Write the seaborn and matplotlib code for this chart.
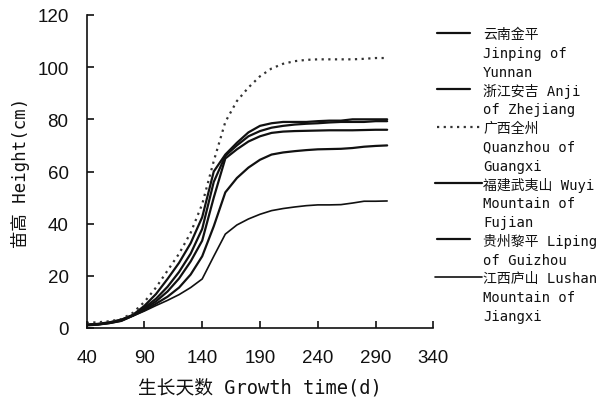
import matplotlib
matplotlib.use("Agg")
import matplotlib.pyplot as plt
import seaborn as sns
import pandas as pd
from matplotlib.lines import Line2D

# ---- data ----
days = [40, 50, 60, 70, 80, 90, 100, 110, 120, 130, 140, 150, 160, 170,
        180, 190, 200, 210, 220, 230, 240, 250, 260, 270, 280, 290, 300]

yunnan_jinping = [1.3, 1.6, 2.2, 3.2, 5.0, 8.5, 13.0, 18.8, 25.0, 32.5, 42.5, 60.0, 66.5, 71.0,
                  75.0, 77.5, 78.5, 79.0, 79.0, 79.0, 79.3, 79.5, 79.5, 80.0, 80.0, 80.0, 80.0]
zhejiang_anji = [1.2, 1.5, 2.1, 3.1, 4.9, 7.8, 11.2, 15.8, 21.5, 28.5, 38.0, 56.0, 66.0, 70.0,
                 73.5, 75.5, 76.8, 77.5, 78.0, 78.3, 78.5, 78.8, 79.0, 79.0, 79.0, 79.3, 79.3]
guangxi_quanzhou = [2.0, 2.2, 2.6, 3.4, 5.8, 10.0, 15.5, 22.0, 28.5, 36.5, 47.5, 64.0, 79.0, 87.0,
                    92.2, 96.5, 99.5, 101.3, 102.3, 102.8, 103.0, 103.0, 103.0, 103.0, 103.2, 103.5, 103.5]
fujian_wuyi = [1.2, 1.4, 2.0, 3.0, 4.8, 7.3, 10.2, 14.0, 19.0, 25.5, 33.5, 50.0, 65.0, 68.5,
               71.5, 73.5, 74.8, 75.3, 75.5, 75.6, 75.7, 75.8, 75.8, 75.8, 75.9, 76.0, 76.0]
guizhou_liping = [1.0, 1.3, 1.9, 2.8, 4.7, 6.8, 9.3, 12.0, 15.5, 20.5, 27.5, 39.0, 52.0, 57.5,
                  61.5, 64.5, 66.5, 67.3, 67.8, 68.2, 68.5, 68.6, 68.7, 69.0, 69.5, 69.8, 70.0]
jiangxi_lushan = [1.0, 1.3, 1.8, 2.6, 4.6, 6.5, 8.6, 10.6, 12.8, 15.5, 18.8, 27.5, 36.0, 39.5,
                  41.8, 43.6, 45.0, 45.8, 46.4, 46.9, 47.2, 47.2, 47.3, 47.9, 48.6, 48.6, 48.7]

labels = [
    "云南金平\nJinping of\nYunnan",
    "浙江安吉 Anji\nof Zhejiang",
    "广西全州\nQuanzhou of\nGuangxi",
    "福建武夷山 Wuyi\nMountain of\nFujian",
    "贵州黎平 Liping\nof Guizhou",
    "江西庐山 Lushan\nMountain of\nJiangxi",
]
series = [yunnan_jinping, zhejiang_anji, guangxi_quanzhou, fujian_wuyi, guizhou_liping, jiangxi_lushan]

x_ticks = [40, 90, 140, 190, 240, 290, 340]
y_ticks = [0, 20, 40, 60, 80, 100, 120]
x_label = "生长天数 Growth time(d)"
y_label = "苗高 Height(cm)"

# ---- styles ----
colors = ["#111111", "#111111", "#333333", "#111111", "#111111", "#111111"]
widths = [1.6, 1.6, 1.6, 1.6, 1.6, 1.2]
dotted = (0, (1, 2.0))
styles = ["-", "-", dotted, "-", "-", "-"]

sns.set_theme(style="white")
plt.rcParams["font.family"] = ["DejaVu Sans Mono", "Noto Sans CJK SC"]
plt.rcParams["xtick.direction"] = "in"
plt.rcParams["ytick.direction"] = "in"
plt.rcParams["xtick.bottom"] = True
plt.rcParams["ytick.left"] = True

W, H = 613, 402
fig = plt.figure(figsize=(W / 100, H / 100), dpi=100)
left, right, top, bottom = 86.6, 433.4, 16, 329
ax = fig.add_axes([left / W, 1 - bottom / H, (right - left) / W, (bottom - top) / H])

frames = []
for lab, vals in zip(labels, series):
    frames.append(pd.DataFrame({"day": days, "height": vals, "site": lab}))
df = pd.concat(frames, ignore_index=True)

for lab, c, lw, ls in zip(labels, colors, widths, styles):
    sub = df[df["site"] == lab]
    sns.lineplot(data=sub, x="day", y="height", ax=ax, color=c, lw=lw,
                 linestyle=ls, legend=False)

ax.set_xlim(40, 340)
ax.set_ylim(0, 120)
ax.set_xticks(x_ticks)
ax.set_yticks(y_ticks)
ax.set_xticklabels([str(t) for t in x_ticks])
ax.set_yticklabels([str(t) for t in y_ticks])
for s in ["top", "right"]:
    ax.spines[s].set_visible(False)
for s in ["left", "bottom"]:
    ax.spines[s].set_color("#111111")
    ax.spines[s].set_linewidth(1.2)
ax.tick_params(axis="x", bottom=True, direction="in", length=5, width=1.2, pad=15,
               labelsize=13.5, colors="#111111")
ax.tick_params(axis="y", left=True, direction="in", length=5, width=1.2, pad=13,
               labelsize=13.5, colors="#111111")
for t in ax.get_xticklabels() + ax.get_yticklabels():
    t.set_fontfamily(["Liberation Sans", "DejaVu Sans"])

ax.set_xlabel(x_label, fontsize=13.5, color="#111111", labelpad=8.5)
ax.set_ylabel(y_label, fontsize=12.5, color="#111111", labelpad=5)

# ---- legend (drawn at the right, outside the axes) ----
line_h = 18.8
y0 = 35.0
handle_spans = [(436.7, 470), (436.7, 470), (436.7, 480), (435, 482), (436.7, 470), (435, 482)]
text_x = 483
k = 0
for lab, c, lw, ls, (hx0, hx1) in zip(labels, colors, widths, styles, handle_spans):
    lines = lab.split("\n")
    yy = y0 + k * line_h
    fig.add_artist(Line2D([hx0 / W, hx1 / W], [1 - (yy - 1.5) / H] * 2, transform=fig.transFigure,
                          color=c, lw=lw, linestyle=ls))
    for i, ln in enumerate(lines):
        fig.text(text_x / W, 1 - (y0 + (k + i) * line_h) / H, ln, fontsize=10,
                 ha="left", va="center", color="#111111")
    k += len(lines)

fig.savefig("out.png", dpi=100)
